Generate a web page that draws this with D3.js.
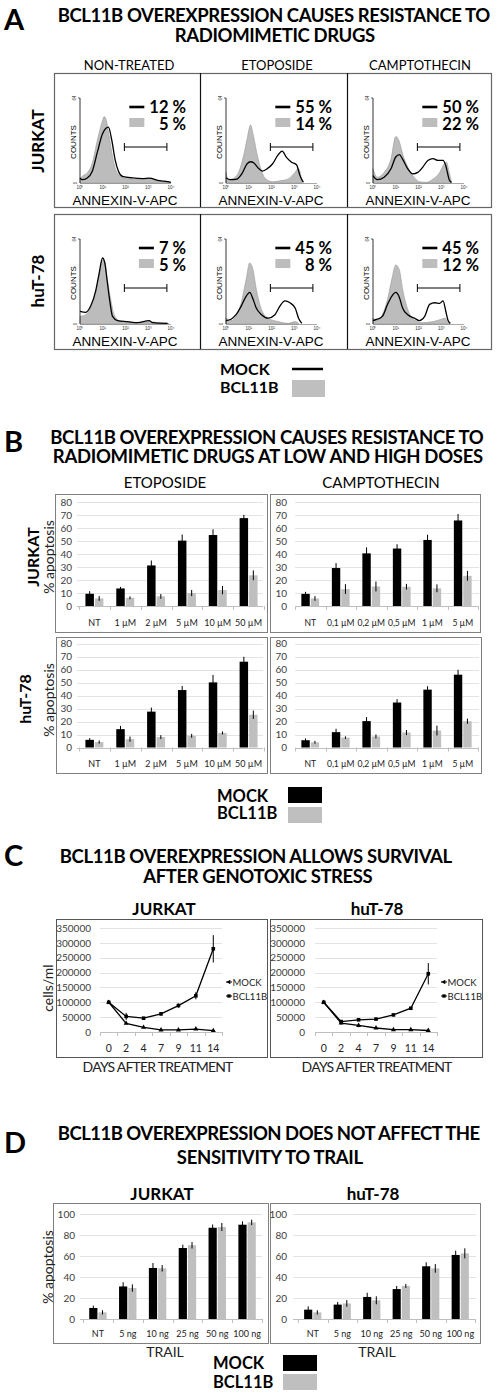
<!DOCTYPE html>
<html><head><meta charset="utf-8">
<script src="https://cdn.jsdelivr.net/npm/d3@7"></script>
<style>body{margin:0;background:#fff}svg{display:block}</style>
</head><body>
<script>
// ---------------- DATA ----------------
// Panel A (flow cytometry): [log10 fluorescence, counts (0-64)]
const histCols = ["NON-TREATED", "ETOPOSIDE", "CAMPTOTHECIN"];
const histRows = ["JURKAT", "huT-78"];
const pctMock = [[12, 55, 50], [7, 45, 45]];
const pctBcl = [[5, 14, 22], [5, 8, 12]];
const jurkatNTBcl = [[0,2.5],[0.1,5],[0.32,7.6],[0.54,15],[0.76,32],[0.99,47],[1.06,50],[1.16,47],[1.28,35.5],[1.43,20],[1.57,10],[1.79,5],[2.16,3],[2.75,2.5],[3.04,3.3],[3.34,1.8],[3.93,0.5]];
const jurkatNTMock = [[0,3.8],[0.1,2.5],[0.32,3.8],[0.54,8.9],[0.76,23],[0.99,37],[1.13,41],[1.25,42],[1.4,32],[1.54,17.8],[1.69,8.9],[1.87,5],[2.31,3.8],[2.75,3.3],[3.04,3.6],[3.49,1.8],[3.85,1],[4,0.5]];
const jurkatEtoBcl = [[0,8],[0.1,2.5],[0.33,3.5],[0.55,8],[0.78,21],[0.93,33.5],[1.08,43.7],[1.2,36],[1.35,23],[1.53,10.7],[1.75,3],[2.05,1],[2.43,1.8],[2.73,3],[3.03,8],[3.18,11],[3.26,8],[3.33,0.5]];
const jurkatEtoMock = [[0,4],[0.18,2.5],[0.48,3],[0.7,7],[0.93,14.5],[1.08,16],[1.23,15],[1.45,10.7],[1.6,9],[1.83,11],[2.05,14.5],[2.28,21],[2.47,24],[2.65,19.5],[2.88,15.7],[3.1,13.7],[3.25,5.6],[3.4,0.5]];
const jurkatCptBcl = [[0,10.7],[0.19,4.3],[0.49,8],[0.79,18],[1.0,35],[1.16,31],[1.3,22],[1.53,12],[1.75,5.6],[2.04,1],[2.34,0.5],[2.64,3],[2.93,8],[3.08,13],[3.23,15.7],[3.35,8],[3.45,0.5]];
const jurkatCptMock = [[0,5.6],[0.19,2.5],[0.49,4.3],[0.79,10.7],[1.0,19.6],[1.16,21.3],[1.3,18],[1.53,10.7],[1.75,6.9],[1.97,8],[2.19,12],[2.41,17],[2.64,18.3],[2.86,17],[3.08,17],[3.2,13],[3.35,2.5],[3.45,0.5]];
const hutNTBcl = [[0,5.7],[0.25,7],[0.47,12],[0.69,24],[0.84,37],[0.99,48],[1.09,47],[1.2,34],[1.35,18.6],[1.5,7],[1.72,2.6],[2.09,1.5],[2.68,1],[3.1,1.8],[3.4,1],[3.9,0.5]];
const hutNTMock = [[0,9.6],[0.25,8.8],[0.47,13.5],[0.69,25],[0.84,38],[0.99,49.7],[1.09,46],[1.2,31.6],[1.32,16],[1.43,5.7],[1.65,2.6],[2.09,1.8],[2.53,1],[3.04,2.6],[3.19,1],[3.85,0.5]];
const hutEtoBcl = [[0,4.4],[0.22,2.6],[0.44,5.7],[0.67,16],[0.89,34],[1.04,46],[1.19,40.7],[1.33,26.4],[1.56,10.9],[1.85,4.4],[2.3,1.8],[2.74,0.5],[3.04,1.8],[3.19,0.5]];
const hutEtoMock = [[0,2.6],[0.22,3.6],[0.44,7],[0.67,13.5],[0.89,21],[1.04,23.8],[1.19,18.6],[1.33,12],[1.56,7],[1.85,4.4],[2.15,7],[2.37,13.5],[2.59,17.4],[2.81,16],[3.04,12],[3.19,4.4],[3.33,0.5]];
const hutCptBcl = [[0,4.4],[0.19,2.6],[0.41,7],[0.64,18.6],[0.83,34],[1.0,44.5],[1.16,40.7],[1.3,26.4],[1.53,10.9],[1.82,3],[2.19,1],[2.64,1.8],[3.0,3.6],[3.16,4.4],[3.3,1],[3.38,0.5]];
const hutCptMock = [[0,2.6],[0.19,3.6],[0.41,5.7],[0.64,14.8],[0.83,21],[1.0,23.8],[1.16,20],[1.3,12],[1.53,7],[1.82,4.4],[2.04,2.6],[2.27,5.7],[2.49,14.8],[2.71,16],[2.93,15.5],[3.08,17.4],[3.2,9.6],[3.3,2.6],[3.4,0.5]];
const gateRange = [1.95, 3.82];
const decadeLabels = ["10⁰", "10¹", "10²", "10³", "10⁴"];

// Panel B (% apoptosis)
const etoDoses = ["NT", "1 µM", "2 µM", "5 µM", "10 µM", "50 µM"];
const cptDoses = ["NT", "0,1 µM", "0,2 µM", "0,5 µM", "1 µM", "5 µM"];
const jurkatEtoMockPct = [9.4, 13.5, 31.2, 50.3, 54.6, 67.6];
const jurkatEtoMockErr = [2, 1.2, 3.8, 4.7, 4.4, 2.5];
const jurkatEtoBclPct = [5.8, 6.3, 7.4, 10, 12.2, 23.6];
const jurkatEtoBclErr = [1.8, 1.1, 1.8, 2.4, 3.2, 3.8];
const jurkatCptMockPct = [9.3, 29.2, 40.5, 44.2, 50.8, 65.8];
const jurkatCptMockErr = [1.6, 3.8, 4.6, 3.3, 4.0, 5.0];
const jurkatCptBclPct = [5.8, 13, 15, 14.8, 13.6, 23.2];
const jurkatCptBclErr = [1.8, 3.8, 3.8, 2.2, 3.0, 3.8];
const hutEtoMockPct = [5.9, 14.1, 27.6, 44.2, 50.1, 66];
const hutEtoMockErr = [1.3, 2.5, 3.1, 3.1, 5.7, 3.8];
const hutEtoBclPct = [4.2, 6.4, 8, 9, 11.2, 25.2];
const hutEtoBclErr = [1.2, 2.0, 1.5, 1.5, 1.2, 3.2];
const hutCptMockPct = [5.6, 11.8, 20.3, 34.6, 44.5, 56];
const hutCptMockErr = [1.4, 2.6, 3.1, 2.6, 2.6, 3.8];
const hutCptBclPct = [4, 7.6, 8.5, 11.5, 13, 20.2];
const hutCptBclErr = [1.1, 1.0, 1.5, 2.0, 3.8, 2.0];

// Panel C (cells/ml)
const days = ["0", "2", "4", "7", "9", "11", "14"];
const jurkatMockCells = [100000, 29000, 15500, 7000, 7000, 10000, 4500];
const jurkatMockErr = [0, 2000, 2000, 1000, 1000, 2000, 500];
const jurkatBclCells = [100000, 52500, 46500, 61000, 89000, 122000, 280000];
const jurkatBclErr = [0, 12000, 3000, 6000, 7000, 12000, 46000];
const hutMockCells = [100000, 30000, 22000, 13500, 7800, 7800, 5000];
const hutMockErr = [0, 5000, 6000, 3000, 1000, 1000, 500];
const hutBclCells = [100000, 35000, 41000, 43500, 57500, 80000, 196000];
const hutBclErr = [0, 4000, 3000, 3000, 3000, 3000, 36000];

// Panel D (% apoptosis, TRAIL)
const trailDoses = ["NT", "5 ng", "10 ng", "25 ng", "50 ng", "100 ng"];
const jurkatTrailMock = [10.5, 31, 48.6, 67.6, 86.9, 89.8];
const jurkatTrailMockErr = [2.2, 4, 4.7, 3.2, 3.1, 3.2];
const jurkatTrailBcl = [6.3, 29.5, 48.3, 70.2, 87.6, 92];
const jurkatTrailBclErr = [2, 3.5, 3.1, 3.1, 3.8, 2.6];
const hutTrailMock = [8.9, 13.7, 21, 28.5, 50.2, 61];
const hutTrailMockErr = [3.1, 2.5, 4.0, 3, 3.8, 4.1];
const hutTrailBcl = [6.3, 14.8, 17.8, 31.5, 48.2, 62.5];
const hutTrailBclErr = [2, 3.2, 3.8, 1.9, 4.1, 4.8];

const seriesNames = ["MOCK", "BCL11B"];

// ---------------- DRAWING ----------------
const LATO = "Lato, Carlito, 'Open Sans', sans-serif";
const ARIAL = "'Liberation Sans', Arial, sans-serif";
const GRAY = "#bfbfbf";
const svg = d3.select("body").append("svg").attr("width", 498).attr("height", 1395);

function txt(g, x, y, s, o = {}) {
  const t = g.append("text").attr("x", x).attr("y", y).text(s)
    .attr("font-family", o.ff || LATO).attr("font-size", o.fs || 12)
    .attr("font-weight", o.fw || 400).attr("text-anchor", o.anchor || "start")
    .attr("fill", o.fill || "#000");
  if (o.rot) t.attr("transform", `rotate(${o.rot},${x},${y})`);
  if (o.db) t.attr("dominant-baseline", o.db);
  if (o.fit) {
    const w = t.node().getComputedTextLength();
    const n = s.length;
    const ls = (o.fit - w) / n;
    t.attr("letter-spacing", ls);
    if (o.anchor === "middle") t.attr("x", x + ls / 2);
  }
  return t;
}
function title2(lines) {
  lines.forEach(l => txt(svg, l[0], l[1], l[2], {fs: 18.5, fw: 700, anchor: "middle", fit: l[3]}));
}
function rowLabel(x, y, s, fs) {
  txt(svg, x, y, s, {fs: fs || 17, fw: 700, anchor: "middle", rot: -90, db: "central"});
}

// Panel letters
[["A", 30], ["B", 452], ["C", 866], ["D", 1153]].forEach(d =>
  txt(svg, 4, d[1], d[0], {fs: 29, fw: 700}));

// ===== Panel A =====
title2([[274, 22, "BCL11B OVEREXPRESSION CAUSES RESISTANCE TO", 432],
        [275, 42, "RADIOMIMETIC DRUGS", 200]]);
const cellX = [54, 200, 347];
const boxY = [73, 214];
const colCenters = [129, 277, 420];
histCols.forEach((c, i) => txt(svg, colCenters[i], 70, c, {fs: 13, anchor: "middle"}));
rowLabel(37, 141, histRows[0]);
rowLabel(37, 281, histRows[1]);

const histMock = [[jurkatNTMock, jurkatEtoMock, jurkatCptMock], [hutNTMock, hutEtoMock, hutCptMock]];
const histBcl = [[jurkatNTBcl, jurkatEtoBcl, jurkatCptBcl], [hutNTBcl, hutEtoBcl, hutCptBcl]];

boxY.forEach((by, r) => {
  const g = svg.append("g");
  g.append("rect").attr("x", 54.5).attr("y", by + 0.5).attr("width", 437).attr("height", r ? 135 : 134)
    .attr("fill", "none").attr("stroke", "#666").attr("stroke-width", 1.2);
  [200, 347].forEach(x => g.append("line").attr("x1", x + 0.5).attr("x2", x + 0.5)
    .attr("y1", by).attr("y2", by + (r ? 135 : 134)).attr("stroke", "#111").attr("stroke-width", 1.2));
  cellX.forEach((cx, c) => {
    const xS = d3.scaleLinear([0, 4], [cx + 26, cx + 117]);
    const yS = d3.scaleLinear([0, 64], [by + 110, by + 25]);
    const area = d3.area().x(d => xS(d[0])).y0(yS(0)).y1(d => yS(d[1])).curve(d3.curveMonotoneX);
    const line = d3.line().x(d => xS(d[0])).y(d => yS(d[1])).curve(d3.curveMonotoneX);
    g.append("path").attr("d", area(histBcl[r][c])).attr("fill", "#bcbcbc")
      .attr("stroke", "#999").attr("stroke-width", 0.6);
    g.append("path").attr("d", line(histMock[r][c])).attr("fill", "none")
      .attr("stroke", "#000").attr("stroke-width", 1.3);
    // axes
    g.append("line").attr("x1", xS(0)).attr("x2", xS(0)).attr("y1", yS(64)).attr("y2", yS(0))
      .attr("stroke", "#000").attr("stroke-width", 0.8);
    g.append("line").attr("x1", xS(0)).attr("x2", xS(4)).attr("y1", yS(0) + 0.5).attr("y2", yS(0) + 0.5)
      .attr("stroke", "#555").attr("stroke-width", 0.5);
    g.append("line").attr("x1", xS(0) - 2).attr("x2", xS(0)).attr("y1", yS(64)).attr("y2", yS(64))
      .attr("stroke", "#000").attr("stroke-width", 0.6);
    decadeLabels.forEach((t, k) => txt(g, xS(k), yS(0) + 5.5, t, {fs: 4.5, anchor: "middle", ff: ARIAL, fill: "#333"}));
    txt(g, xS(0) - 4, yS(64), "64", {fs: 4.5, anchor: "middle", rot: -90, ff: ARIAL, fill: "#333"});
    txt(g, xS(0) - 3, yS(0), "0", {fs: 4.5, anchor: "middle", rot: -90, ff: ARIAL, fill: "#333"});
    txt(g, cx + 19, by + 69, "COUNTS", {fs: 8, anchor: "middle", rot: -90, ff: ARIAL, db: "central"});
    txt(g, cx + 71, by + 132, "ANNEXIN-V-APC", {fs: 13.5, anchor: "middle", ff: ARIAL});
    // gate
    const gy = by + 74;
    g.append("line").attr("x1", xS(gateRange[0])).attr("x2", xS(gateRange[1])).attr("y1", gy).attr("y2", gy)
      .attr("stroke", "#000").attr("stroke-width", 1);
    gateRange.forEach(v => g.append("line").attr("x1", xS(v)).attr("x2", xS(v)).attr("y1", gy - 4).attr("y2", gy + 4)
      .attr("stroke", "#000").attr("stroke-width", 1));
    // percentages
    const right = cx + 132;
    const t1 = txt(g, right, by + 40, pctMock[r][c] + " %", {fs: 16.5, fw: 700, anchor: "end"});
    txt(g, right, by + 57, pctBcl[r][c] + " %", {fs: 16.5, fw: 700, anchor: "end"});
    const w = t1.node().getComputedTextLength();
    const lx = right - w - 20;
    g.append("line").attr("x1", lx).attr("x2", lx + 15).attr("y1", by + 34).attr("y2", by + 34)
      .attr("stroke", "#000").attr("stroke-width", 2.6);
    g.append("rect").attr("x", lx).attr("y", by + 45).attr("width", 15).attr("height", 9).attr("fill", "#bdbdbd");
  });
});
// Legend A
txt(svg, 220, 375, seriesNames[0], {fs: 16, fw: 700});
txt(svg, 220, 393, seriesNames[1], {fs: 16, fw: 700});
svg.append("line").attr("x1", 292).attr("x2", 323).attr("y1", 369).attr("y2", 369).attr("stroke", "#000").attr("stroke-width", 2.5);
svg.append("rect").attr("x", 292).attr("y", 380).attr("width", 33).attr("height", 17).attr("fill", GRAY);

// ===== bar chart helper (B, D) =====
function barChart(o) {
  const g = svg.append("g");
  g.append("rect").attr("x", o.box[0] + 0.5).attr("y", o.box[1] + 0.5)
    .attr("width", o.box[2] - o.box[0]).attr("height", o.box[3] - o.box[1])
    .attr("fill", "#fff").attr("stroke", "#808080").attr("stroke-width", 1);
  const x = d3.scaleBand(o.cats, o.xr);
  const y = d3.scaleLinear([0, o.max], [o.y0, o.yTop]);
  const ticks = d3.range(0, o.max + 0.1, o.step);
  g.selectAll(".grid").data(ticks).join("line")
    .attr("x1", o.grid[0]).attr("x2", o.grid[1])
    .attr("y1", d => Math.round(y(d)) + 0.5).attr("y2", d => Math.round(y(d)) + 0.5)
    .attr("stroke", d => d === 0 ? "#bfbfbf" : "#e3e3e3").attr("stroke-width", 1);
  d3.range(o.cats.length + 1).forEach(i => {
    const xx = Math.round(o.xr[0] + i * x.step()) + 0.5;
    g.append("line").attr("x1", xx).attr("x2", xx).attr("y1", o.y0).attr("y2", o.y0 + 4)
      .attr("stroke", "#bfbfbf");
  });
  const yAxis = d3.axisLeft(y).tickValues(ticks).tickSize(0).tickPadding(0);
  const ag = g.append("g").attr("transform", `translate(${o.tickX},0)`).call(yAxis);
  ag.select(".domain").remove();
  ag.selectAll("text").attr("font-family", LATO).attr("font-size", o.tfs || 10).attr("fill", "#404040");
  o.cats.forEach(c => txt(g, x(c) + x.bandwidth() / 2, o.labelY, c, {fs: o.xfs || 9, anchor: "middle", fill: "#222"}));
  const bw = x.bandwidth() * 0.275;
  const series = [[o.mock, o.mockErr, "#000", -1], [o.bcl, o.bclErr, GRAY, 1]];
  series.forEach(([vals, errs, col, side]) => {
    vals.forEach((v, i) => {
      const cxm = x(o.cats[i]) + x.bandwidth() / 2;
      const bx = side < 0 ? cxm - bw - 0.5 : cxm + 0.5;
      g.append("rect").attr("x", bx).attr("y", y(v)).attr("width", bw).attr("height", y(0) - y(v)).attr("fill", col);
      const ex = bx + bw / 2;
      g.append("line").attr("x1", ex).attr("x2", ex).attr("y1", y(v - errs[i])).attr("y2", y(v + errs[i]))
        .attr("stroke", "#000").attr("stroke-width", 1);
    });
  });
  if (o.ylab) txt(g, o.ylab[0], o.ylab[1], o.ylab[2], {fs: 14, anchor: "middle", rot: -90, db: "central", fill: "#222"});
  return g;
}

// ===== Panel B =====
title2([[267, 444, "BCL11B OVEREXPRESSION CAUSES RESISTANCE TO", 433],
        [268, 463, "RADIOMIMETIC DRUGS AT LOW AND HIGH DOSES", 430]]);
txt(svg, 165, 488, "ETOPOSIDE", {fs: 15, anchor: "middle"});
txt(svg, 381, 488, "CAMPTOTHECIN", {fs: 15, anchor: "middle"});
rowLabel(32, 557, "JURKAT", 16);
rowLabel(24, 699, "huT-78", 16);
barChart({box: [55, 494, 267, 632], xr: [79, 264], grid: [77, 263], y0: 606, yTop: 502, max: 80, step: 10, tickX: 72, labelY: 626,
  cats: etoDoses, mock: jurkatEtoMockPct, mockErr: jurkatEtoMockErr, bcl: jurkatEtoBclPct, bclErr: jurkatEtoBclErr, ylab: [48, 557, "% apoptosis"]});
barChart({box: [270, 494, 480, 632], xr: [295, 478], grid: [295, 479], y0: 606, yTop: 502, max: 80, step: 10, tickX: 287, labelY: 626, xfs: 8.6,
  cats: cptDoses, mock: jurkatCptMockPct, mockErr: jurkatCptMockErr, bcl: jurkatCptBclPct, bclErr: jurkatCptBclErr});
barChart({box: [56, 637, 267, 773], xr: [79, 264], grid: [77, 263], y0: 747.5, yTop: 643.5, max: 80, step: 10, tickX: 72, labelY: 767,
  cats: etoDoses, mock: hutEtoMockPct, mockErr: hutEtoMockErr, bcl: hutEtoBclPct, bclErr: hutEtoBclErr, ylab: [48, 700, "% apoptosis"]});
barChart({box: [270, 637, 481, 773], xr: [295, 478], grid: [295, 479], y0: 747.5, yTop: 643.5, max: 80, step: 10, tickX: 287, labelY: 767, xfs: 8.6,
  cats: cptDoses, mock: hutCptMockPct, mockErr: hutCptMockErr, bcl: hutCptBclPct, bclErr: hutCptBclErr});
// Legend B
txt(svg, 217, 802, seriesNames[0], {fs: 16.5, fw: 700});
txt(svg, 217, 819, seriesNames[1], {fs: 16.5, fw: 700});
svg.append("rect").attr("x", 288).attr("y", 787).attr("width", 34).attr("height", 16).attr("fill", "#000");
svg.append("rect").attr("x", 288).attr("y", 807).attr("width", 34).attr("height", 16).attr("fill", GRAY);

// ===== Panel C =====
title2([[256, 863, "BCL11B OVEREXPRESSION ALLOWS SURVIVAL", 392],
        [258, 883, "AFTER GENOTOXIC STRESS", 229]]);
function lineChart(o) {
  const g = svg.append("g");
  txt(g, o.title[0], 915, o.title[1], {fs: 17, fw: 700, anchor: "middle"});
  g.append("rect").attr("x", o.box[0] + 0.5).attr("y", o.box[1] + 0.5)
    .attr("width", o.box[2] - o.box[0]).attr("height", o.box[3] - o.box[1])
    .attr("fill", "#fff").attr("stroke", "#555").attr("stroke-width", 1);
  const x = d3.scalePoint(days, o.xr).padding(0.5);
  const y = d3.scaleLinear([0, 350000], [1032, 928]);
  const ticks = d3.range(0, 350001, 50000);
  g.selectAll(".grid").data(ticks).join("line")
    .attr("x1", o.xr[0]).attr("x2", o.xr[1])
    .attr("y1", d => Math.round(y(d)) + 0.5).attr("y2", d => Math.round(y(d)) + 0.5)
    .attr("stroke", d => d === 0 ? "#bfbfbf" : "#e3e3e3");
  d3.range(days.length + 1).forEach(i => {
    const xx = Math.round(o.xr[0] + i * x.step()) + 0.5;
    g.append("line").attr("x1", xx).attr("x2", xx).attr("y1", 1032).attr("y2", 1036).attr("stroke", "#bfbfbf");
  });
  const ag = g.append("g").attr("transform", `translate(${o.tickX},0)`)
    .call(d3.axisLeft(y).tickValues(ticks).tickSize(0).tickPadding(0).tickFormat(d3.format("d")));
  ag.select(".domain").remove();
  ag.selectAll("text").attr("font-family", LATO).attr("font-size", 10).attr("fill", "#404040");
  days.forEach(d => txt(g, x(d), 1052, d, {fs: 10.5, anchor: "middle", fill: "#222"}));
  txt(g, o.axisTitleX, 1072, "DAYS AFTER TREATMENT", {fs: 14, anchor: "middle", fit: 150, fill: "#222"});
  const ln = d3.line().x((d, i) => x(days[i])).y(d => y(d));
  const sets = [[o.mock, o.mockErr, d3.symbolTriangle, 11], [o.bcl, o.bclErr, d3.symbolSquare, 13]];
  sets.forEach(([vals, errs, sym, sz]) => {
    g.append("path").attr("d", ln(vals)).attr("fill", "none").attr("stroke", "#000").attr("stroke-width", 1.3);
    vals.forEach((v, i) => {
      if (errs[i] > 0) g.append("line").attr("x1", x(days[i])).attr("x2", x(days[i]))
        .attr("y1", y(v - errs[i])).attr("y2", y(v + errs[i])).attr("stroke", "#000").attr("stroke-width", 1);
      g.append("path").attr("d", d3.symbol(sym, sz)()).attr("transform", `translate(${x(days[i])},${y(v)})`).attr("fill", "#000");
    });
  });
  [[982, d3.symbolTriangle, 9], [996, d3.symbolSquare, 11]].forEach(([ly, sym, sz], k) => {
    g.append("line").attr("x1", o.legX).attr("x2", o.legX + 6).attr("y1", ly).attr("y2", ly).attr("stroke", "#000");
    g.append("path").attr("d", d3.symbol(sym, sz)()).attr("transform", `translate(${o.legX + 3},${ly}) rotate(${k ? 0 : -90})`).attr("fill", "#000");
    txt(g, o.legX + 6.5, ly + 3.5, seriesNames[k], {fs: 9.5, fill: "#222"});
  });
  if (o.ylab) txt(g, 47, 988, "cells/ml", {fs: 14, anchor: "middle", rot: -90, db: "central", fill: "#222"});
}
lineChart({title: [164, "JURKAT"], box: [56, 919, 267, 1057], xr: [100, 222], tickX: 91, axisTitleX: 158, legX: 226,
  mock: jurkatMockCells, mockErr: jurkatMockErr, bcl: jurkatBclCells, bclErr: jurkatBclErr, ylab: true});
lineChart({title: [377, "huT-78"], box: [270, 919, 482, 1057], xr: [315, 437], tickX: 305, axisTitleX: 377, legX: 441,
  mock: hutMockCells, mockErr: hutMockErr, bcl: hutBclCells, bclErr: hutBclErr});

// ===== Panel D =====
title2([[269, 1140, "BCL11B OVEREXPRESSION DOES NOT AFFECT THE", 422],
        [270, 1164, "SENSITIVITY TO TRAIL", 186]]);
txt(svg, 162, 1200, "JURKAT", {fs: 17, fw: 700, anchor: "middle"});
txt(svg, 373, 1200, "huT-78", {fs: 17, fw: 700, anchor: "middle"});
barChart({box: [53, 1203, 268, 1343], xr: [83, 262], grid: [80, 262], y0: 1319, yTop: 1214, max: 100, step: 20, tickX: 75, labelY: 1337, xfs: 9,
  cats: trailDoses, mock: jurkatTrailMock, mockErr: jurkatTrailMockErr, bcl: jurkatTrailBcl, bclErr: jurkatTrailBclErr, ylab: [47, 1267, "% apoptosis"]});
barChart({box: [270, 1203, 480, 1343], xr: [298, 475], grid: [293, 476], y0: 1319, yTop: 1214, max: 100, step: 20, tickX: 287, labelY: 1337, xfs: 9,
  cats: trailDoses, mock: hutTrailMock, mockErr: hutTrailMockErr, bcl: hutTrailBcl, bclErr: hutTrailBclErr});
txt(svg, 165, 1357, "TRAIL", {fs: 14, anchor: "middle", fill: "#222"});
txt(svg, 377, 1357, "TRAIL", {fs: 14, anchor: "middle", fill: "#222"});
txt(svg, 213, 1369, seriesNames[0], {fs: 16.5, fw: 700});
txt(svg, 213, 1388, seriesNames[1], {fs: 16.5, fw: 700});
svg.append("rect").attr("x", 283).attr("y", 1355).attr("width", 34).attr("height", 16).attr("fill", "#000");
svg.append("rect").attr("x", 283).attr("y", 1374).attr("width", 34).attr("height", 16).attr("fill", GRAY);
</script>
</body></html>
